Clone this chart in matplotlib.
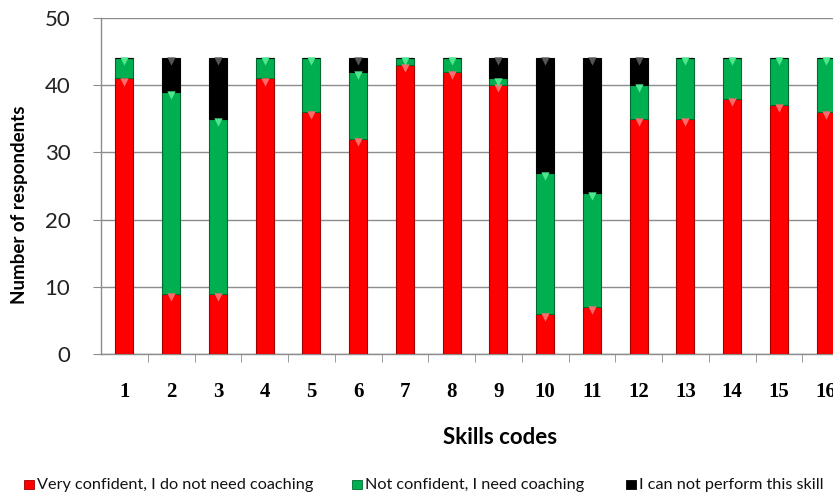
import matplotlib
matplotlib.use('Agg')
import matplotlib.pyplot as plt
import numpy as np

# respondents per skill code, split by confidence level
SKILLS = [str(i) for i in range(1, 17)]
VERY_CONFIDENT = [41, 9, 9, 41, 36, 32, 43, 42, 40, 6, 7, 35, 35, 38, 37, 36]
NOT_CONFIDENT = [3, 30, 26, 3, 8, 10, 1, 2, 1, 21, 17, 5, 9, 6, 7, 8]
CANNOT_PERFORM = [0, 5, 9, 0, 0, 2, 0, 0, 3, 17, 20, 4, 0, 0, 0, 0]

LABELS = ['Very confident, I do not need coaching',
          'Not confident, I need coaching',
          'I can not perform this skill']
COLORS = ['#ff0000', '#00b050', '#000000']
EDGES = ['#a00000', '#006b30', '#000000']
TIPS = ['#ff6a6a', '#4de88e', '#555555']

SANS = ['Lato', 'DejaVu Sans']
GRID = '#8c8c8c'


def main():
    fig = plt.figure(figsize=(8.33, 4.94), dpi=100)
    ax = fig.add_axes([101 / 833, 140 / 494, 748 / 833, 336 / 494])

    x = np.arange(len(SKILLS))
    bottom = np.zeros(len(SKILLS))
    for vals, color, edge, tip in zip(
            [VERY_CONFIDENT, NOT_CONFIDENT, CANNOT_PERFORM], COLORS, EDGES, TIPS):
        vals = np.array(vals, dtype=float)
        ax.bar(x, vals, bottom=bottom, width=0.385, color=color,
               edgecolor=edge, linewidth=0.8, zorder=3)
        top = bottom + vals
        shown = vals > 0
        ax.scatter(x[shown], top[shown] - 0.45, marker='v', s=36,
                   color=tip, linewidths=0, zorder=4)
        bottom = top

    ax.set_xlim(-0.5, len(SKILLS) - 0.5)
    ax.set_ylim(0, 50)
    ax.set_yticks(range(0, 51, 10))
    ax.yaxis.grid(True, color=GRID, linewidth=1, zorder=0)
    ax.set_axisbelow(True)

    for side in ['top', 'right']:
        ax.spines[side].set_visible(False)
    for side in ['left', 'bottom']:
        ax.spines[side].set_color(GRID)
        ax.spines[side].set_linewidth(1)

    # category labels in the middle, tick marks on the boundaries
    ax.set_xticks(x)
    ax.set_xticklabels(SKILLS, family=['Liberation Serif'], fontweight='bold',
                       fontsize=15)
    ax.tick_params(axis='x', which='major', length=0, pad=20)
    ax.set_xticks(np.arange(len(SKILLS)) + 0.5, minor=True)
    ax.tick_params(axis='x', which='minor', length=6, color=GRID)
    ax.tick_params(axis='y', length=6, color=GRID, pad=16,
                   labelsize=16, labelcolor='#222222')
    for t in ax.get_yticklabels():
        t.set_family(SANS)

    fig.text(500 / 833, 1 - 437 / 494, 'Skills codes', ha='center',
             va='center', fontsize=16, fontweight='bold', family=SANS)
    fig.text(20 / 833, 1 - 205 / 494, 'Number of respondents', ha='center',
             va='center', rotation=90, fontsize=13.5, fontweight='bold',
             family=SANS)

    # legend row along the bottom: marker box then label
    for px, label, color, edge in zip([37, 365, 639], LABELS, COLORS, EDGES):
        fig.patches.append(plt.Rectangle(
            ((px - 13) / 833, 1 - 489 / 494), 10 / 833, 9 / 494,
            transform=fig.transFigure, facecolor=color, edgecolor=edge,
            linewidth=0.6))
        fig.text(px / 833, 1 - 485 / 494, label, ha='left', va='center',
                 fontsize=11.7, family=SANS, color='#111111')

    fig.savefig('out.png', dpi=100)
    plt.close(fig)


if __name__ == '__main__':
    main()
